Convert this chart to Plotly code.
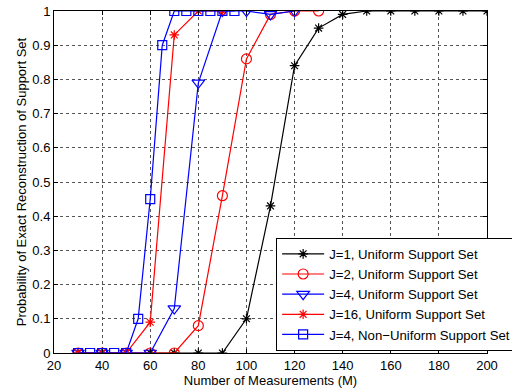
import plotly.graph_objects as go

# Data
x_j1 = [30, 40, 50, 60, 70, 80, 90, 100, 110, 120, 130, 140, 150, 160, 170, 180, 190, 200]
y_j1 = [0, 0, 0, 0, 0, 0, 0, 0.10, 0.43, 0.84, 0.95, 0.99, 1, 1, 1, 1, 1, 1]

x_j2 = [30, 40, 50, 60, 70, 80, 90, 100, 110, 120, 130]
y_j2 = [0, 0, 0, 0, 0, 0.08, 0.46, 0.86, 0.99, 1, 1]

x_j4 = [30, 40, 50, 60, 70, 80, 90, 100, 110, 120]
y_j4 = [0, 0, 0, 0, 0.13, 0.79, 1, 1, 0.99, 1]

x_j16 = [30, 40, 50, 60, 70, 80, 90]
y_j16 = [0, 0, 0, 0.09, 0.93, 1, 1]

x_nu = [30, 35, 40, 45, 50, 55, 60, 65, 70, 75, 80, 85, 90, 95]
y_nu = [0, 0, 0, 0, 0, 0.10, 0.45, 0.90, 1, 1, 1, 1, 1, 1]

names = ["J=1, Uniform Support Set", "J=2, Uniform Support Set", "J=4, Uniform Support Set",
         "J=16, Uniform Support Set", "J=4, Non\u2212Uniform Support Set"]
x_ticks = [20, 40, 60, 80, 100, 120, 140, 160, 180, 200]
y_ticks = [0, 0.1, 0.2, 0.3, 0.4, 0.5, 0.6, 0.7, 0.8, 0.9, 1]

series = [
    (x_j1, y_j1, "black", "asterisk-open", 8),
    (x_j2, y_j2, "red", "circle-open", 10),
    (x_j4, y_j4, "blue", "triangle-down-open", 11),
    (x_j16, y_j16, "red", "asterisk-open", 8),
    (x_nu, y_nu, "blue", "square-open", 9),
]

fig = go.Figure()
for (xs, ys, c, sym, sz), nm in zip(series, names):
    fig.add_trace(go.Scatter(
        x=xs, y=ys, name=nm, mode="lines+markers",
        line=dict(color=c, width=1.2),
        marker=dict(symbol=sym, size=sz, color=c, line=dict(color=c, width=1.2)),
    ))

FONT = "Liberation Sans"
axis_common = dict(
    showline=True, linecolor="black", linewidth=1, mirror="allticks",
    ticks="inside", ticklen=4, tickcolor="black",
    showgrid=True, gridcolor="#555", griddash="dot", gridwidth=1,
    zeroline=False, automargin=False,
    tickfont=dict(family=FONT, size=13, color="black"),
    title_font=dict(family=FONT, size=13, color="black"),
)

fig.update_xaxes(range=[20, 200], tickvals=x_ticks, title_text="Number of Measurements (M)",
                 title_standoff=0, **axis_common)
fig.update_yaxes(range=[0, 1], tickvals=y_ticks, ticktext=[f"{v:g}" for v in y_ticks],
                 title_text="Probability of Exact Reconstruction of Support Set",
                 title_standoff=2, **axis_common)

fig.update_layout(
    width=512, height=391,
    margin=dict(l=54, r=25, t=11, b=38, autoexpand=False),
    paper_bgcolor="white", plot_bgcolor="white",
    font=dict(family=FONT, size=13, color="black"),
    legend=dict(x=0.513, y=0.337, xanchor="left", yanchor="top",
                bgcolor="white", bordercolor="black", borderwidth=1,
                font=dict(family=FONT, size=13.2, color="black"),
                tracegroupgap=0, itemwidth=42),
    showlegend=True,
)

fig.write_html("out.html", config={"displayModeBar": False},
               post_script="document.body.style.margin='0';")
